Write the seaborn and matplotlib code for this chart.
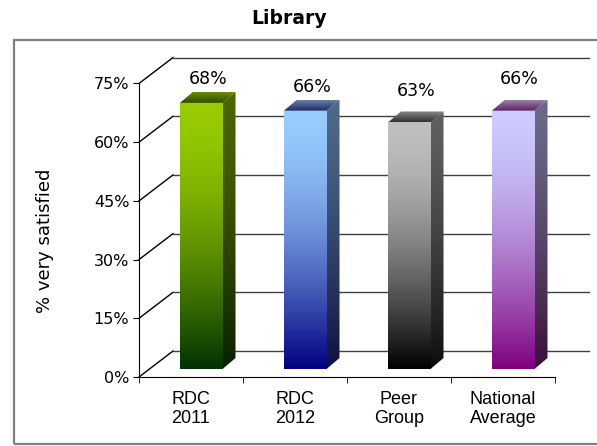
import numpy as np
import matplotlib
matplotlib.use("Agg")
import matplotlib.pyplot as plt
from matplotlib.patches import Polygon, Rectangle
from matplotlib.colors import to_rgb
import seaborn as sns

# data
categories = ["RDC\n2011", "RDC\n2012", "Peer\nGroup", "National\nAverage"]
values = [68, 66, 63, 66]
y_ticks = [0, 15, 30, 45, 60, 75]

# bar colours: front (top, bottom), side (top, bottom), lid (back, front)
front_cols = [("#99cc00", "#003300"), ("#99ccff", "#000080"),
              ("#c0c0c0", "#000000"), ("#ccccff", "#800080")]
side_cols = [("#4d6600", "#0a1f00"), ("#4d6a8a", "#0d1040"),
             ("#606060", "#0d0d0d"), ("#6a6a88", "#3a0f3a")]
lid_cols = [("#6a8f00", "#2d4a00"), ("#6a80b0", "#1a2a60"),
            ("#8a8a8a", "#303030"), ("#9a80b0", "#602060")]
label_lift = [13, 13, 20, 21]   # px above the bar lid, as in the original

# fake 3d geometry (data units)
floor_dx, floor_dy = 0.327, 6.64
bar_dx, bar_dy = 0.125, 2.81
shift_x, shift_y = 0.098, 2.04


def grad(c1, c2, n=256, gamma=1.0):
    t = np.linspace(0, 1, n) ** gamma
    a, b = np.array(to_rgb(c1)), np.array(to_rgb(c2))
    img = a[None, :] * (1 - t[:, None]) + b[None, :] * t[:, None]
    return img[:, None, :]


def shaded(ax, pts, c1, c2, gamma=1.0, clip=None, z=3):
    xs = [p[0] for p in pts]
    ys = [p[1] for p in pts]
    if clip is None:
        clip = Polygon(pts, closed=True, fc="none", ec="none")
        ax.add_patch(clip)
    im = ax.imshow(grad(c1, c2, gamma=gamma), extent=[min(xs), max(xs), min(ys), max(ys)],
                   origin="upper", aspect="auto", interpolation="bilinear", zorder=z)
    im.set_clip_path(clip)


fig = plt.figure(figsize=(5.97, 4.46), dpi=100)
ax = fig.add_axes([139 / 597, 1 - 377 / 446, 450 / 597, (377 - 57.5) / 446])

sns.barplot(x=categories, y=values, width=0.41, ax=ax, color="white")
bars = list(ax.patches)

n = len(categories)
ax.set_xlim(-0.5, n - 0.5 + floor_dx)
ax.set_ylim(0, y_ticks[-1] + floor_dy)

# back wall grid with the diagonal floor/wall joins
for v in y_ticks:
    ax.plot([-0.5, -0.5 + floor_dx], [v, v + floor_dy], color="black", lw=1, zorder=1,
            clip_on=False)
    ax.plot([-0.5 + floor_dx, n - 0.5 + floor_dx], [v + floor_dy, v + floor_dy],
            color="#404040", lw=1, zorder=1, clip_on=False)

for i, p in enumerate(bars):
    x0 = p.get_x() + shift_x
    w = p.get_width()
    h = p.get_height()
    y0 = shift_y
    p.set_x(x0)
    p.set_y(y0)
    p.set_facecolor("none")
    p.set_edgecolor("none")
    front = [(x0, y0), (x0 + w, y0), (x0 + w, y0 + h), (x0, y0 + h)]
    shaded(ax, front, *front_cols[i], gamma=1.6, clip=p, z=4)
    side = [(x0 + w, y0), (x0 + w + bar_dx, y0 + bar_dy),
            (x0 + w + bar_dx, y0 + h + bar_dy), (x0 + w, y0 + h)]
    shaded(ax, side, *side_cols[i], gamma=1.4, z=3)
    lid = [(x0, y0 + h), (x0 + w, y0 + h), (x0 + w + bar_dx, y0 + h + bar_dy),
           (x0 + bar_dx, y0 + h + bar_dy)]
    shaded(ax, lid, *lid_cols[i], z=3)
    ax.annotate(f"{values[i]}%", xy=(x0 + (w + bar_dx) / 2, y0 + h + bar_dy),
                xytext=(0, label_lift[i] * 0.72), textcoords="offset points",
                ha="center", va="center", fontsize=12.5, family="DejaVu Sans",
                annotation_clip=False)

# axes decoration
for s in ["top", "right"]:
    ax.spines[s].set_visible(False)
ax.spines["left"].set_bounds(0, y_ticks[-1])
ax.spines["bottom"].set_bounds(-0.5, n - 0.5)
ax.set_yticks(y_ticks)
ax.set_yticklabels([f"{v}%" for v in y_ticks], fontsize=11.5, family="DejaVu Sans")
ax.tick_params(axis="y", length=4, pad=3)
ax.set_xticks(range(n))
ax.set_xticklabels(categories, fontsize=13, family="Liberation Sans")
ax.set_xticks(np.arange(-0.5, n), minor=True)
ax.tick_params(axis="x", which="major", length=0, pad=10)
ax.tick_params(axis="x", which="minor", length=4, direction="out")
ax.set_ylabel("% very satisfied", fontsize=13, family="DejaVu Sans")
ax.yaxis.set_label_coords((45 - 139) / 450, (377 - 241) / (377 - 57.5))
ax.yaxis.label.set_va("center")
ax.set_xlabel("")

fig.text(289 / 597, 1 - 18 / 446, "Library", ha="center", va="center",
         fontsize=13.5, fontweight="bold", family="DejaVu Sans")
fig.patches.append(Rectangle((14 / 597, 2 / 446), 590 / 597, 404 / 446,
                             transform=fig.transFigure, fill=False,
                             ec="#808080", lw=1.6))

fig.savefig("out.png", dpi=100)
